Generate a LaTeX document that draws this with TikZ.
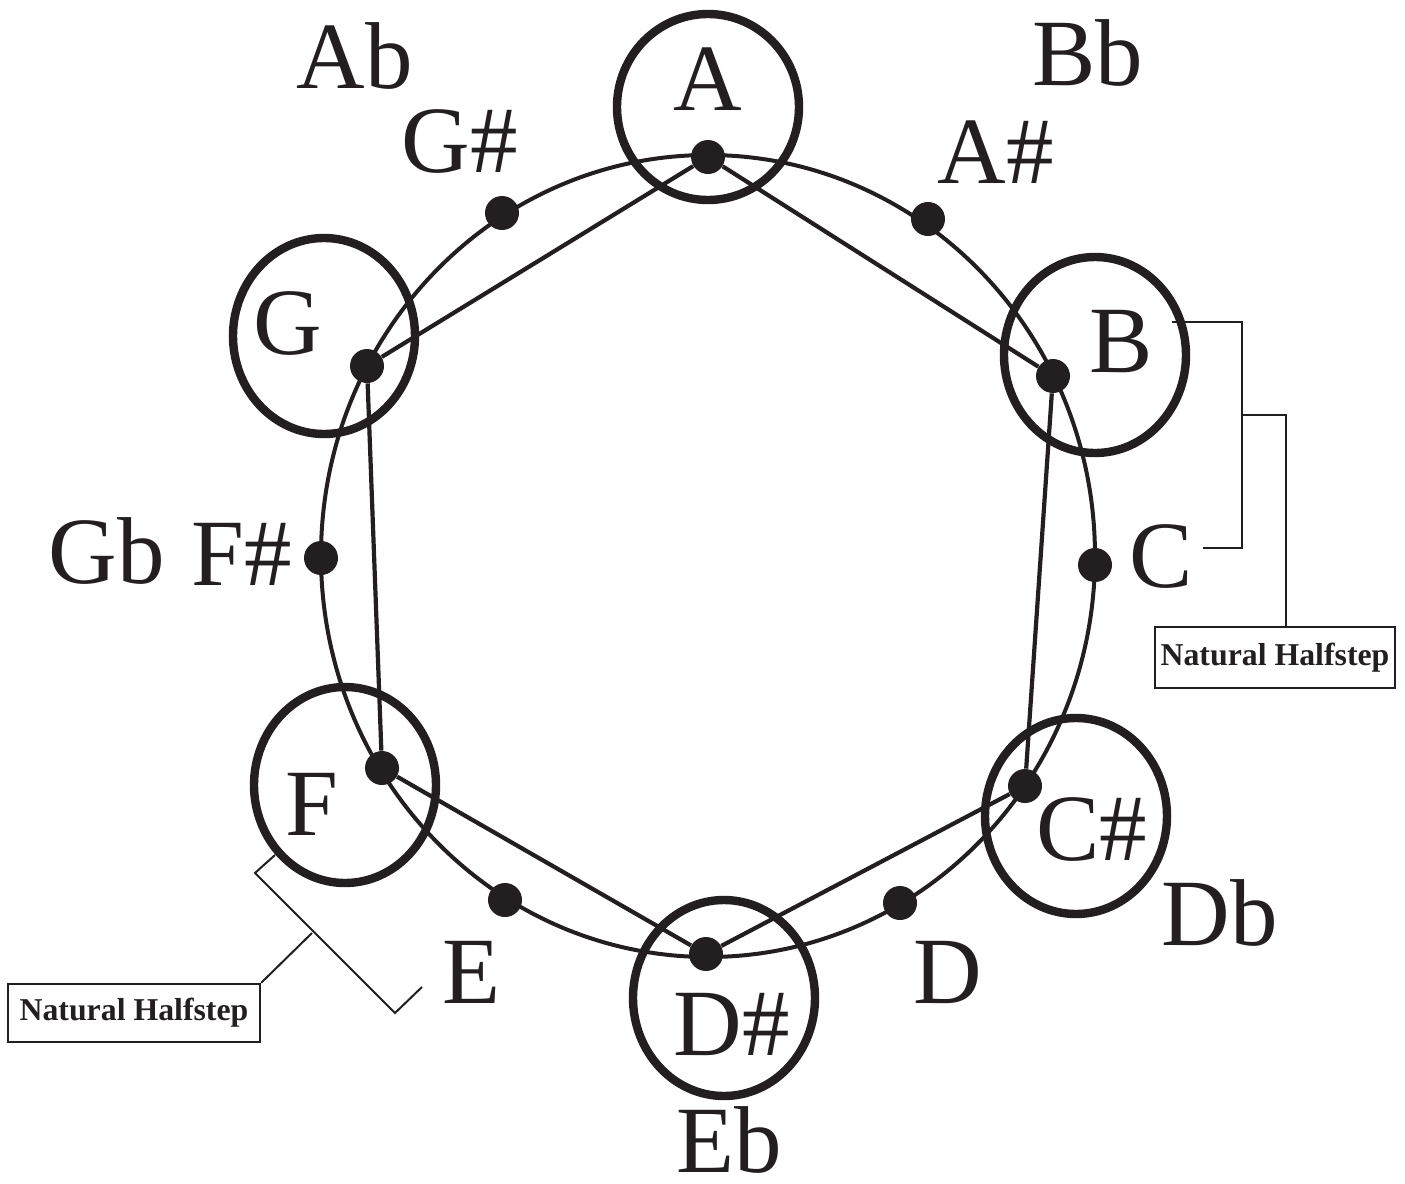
\documentclass[tikz,border=0pt]{standalone}
\usepackage{fontspec}
\setmainfont{Liberation Serif}
\usetikzlibrary{shapes.geometric}
\definecolor{ink}{HTML}{231F20}
\tikzset{
  dot/.style={circle,fill=ink,inner sep=0pt,minimum size=17pt},
  ring/.style={ellipse,draw=ink,line width=4.2pt,inner sep=0pt,minimum width=91pt,minimum height=98pt},
  note/.style={anchor=base,inner sep=0pt,text=ink,font=\fontsize{47.5}{50}\selectfont},
  hex/.style={draw=ink,line width=2.1pt},
  brk/.style={draw=ink,line width=1pt},
  tag/.style={draw=ink,line width=1.2pt,inner sep=0pt,text=ink,font=\bfseries\fontsize{15.9}{18}\selectfont}
}
\begin{document}
\begin{tikzpicture}[x=0.5pt,y=-0.5pt]
\useasboundingbox (0,0) rectangle (1405,1184);
% main ellipse
\draw[draw=ink,line width=2pt] (708,556) ellipse [x radius=387, y radius=401];
% dots
\node[dot] (dA)  at (708,157) {};
\node[dot] (dAs) at (928,219) {};
\node[dot] (dB)  at (1053,376) {};
\node[dot] (dC)  at (1095,565) {};
\node[dot] (dCs) at (1025,786) {};
\node[dot] (dD)  at (900,903) {};
\node[dot] (dDs) at (706,954) {};
\node[dot] (dE)  at (505,900) {};
\node[dot] (dF)  at (382,768) {};
\node[dot] (dFs) at (321,558) {};
\node[dot] (dG)  at (367,366) {};
\node[dot] (dGs) at (502,213) {};
% hexagon
\draw[hex] (dA) -- (dB);
\draw[hex] (dB) -- (dCs);
\draw[hex] (dCs) -- (dDs);
\draw[hex] (dDs) -- (dF);
\draw[hex] (dF) -- (dG);
\draw[hex] (dG) -- (dA);
% rings
\node[ring,minimum height=93pt] (rA) at (708,107) {};
\node[ring] (rG)  at (324,336) {};
\node[ring] (rB)  at (1095,355) {};
\node[ring] (rF)  at (345,785) {};
\node[ring] (rCs) at (1076,816) {};
\node[ring] (rDs) at (724,998) {};
% labels
\node[note] (tA)  at (708,110) {A};
\node[note] (tAb) at (355,88) {Ab};
\node[note] (tBb) at (1088,85) {Bb};
\node[note] (tGs) at (460,172) {G\#};
\node[note] (tAs) at (996,183) {A\#};
\node[note] (tG)  at (288,354) {G};
\node[note] (tB)  at (1121,372) {B};
\node[note] (tGb) at (107,583) {Gb};
\node[note] (tFs) at (242,585) {F\#};
\node[note] (tC)  at (1161,587) {C};
\node[note] (tF)  at (312,835) {F};
\node[note] (tCs) at (1092,860) {C\#};
\node[note] (tDb) at (1220,945) {Db};
\node[note] (tE)  at (472,1003) {E};
\node[note] (tD)  at (948,1003) {D};
\node[note] (tDs) at (732,1055) {D\#};
\node[note] (tEb) at (729,1172) {Eb};
% boxes
\node[tag,minimum width=120pt,minimum height=30.5pt] (rbox) at (1275,657.5) {Natural Halfstep};
\node[tag,minimum width=126pt,minimum height=29pt] (lbox) at (134,1013) {Natural Halfstep};
% right bracket
\coordinate (rb1) at (1172,322);
\coordinate (rb2) at (1242,322);
\coordinate (rb3) at (1242,548);
\coordinate (rb4) at (1203,548);
\coordinate (rm1) at (1242,415);
\coordinate (rm2) at (1286,415);
\draw[brk] (rb1) -- (rb2) -- (rb3) -- (rb4);
\draw[brk] (rm1) -- (rm2) -- ([xshift=5.5pt]rbox.north);
% left bracket
\coordinate (lb1) at (275,855);
\coordinate (lb2) at (255,873);
\coordinate (lb3) at (395,1013);
\coordinate (lb4) at (422,987);
\coordinate (lm1) at (312,933);
\draw[brk] (lb1) -- (lb2) -- (lb3) -- (lb4);
\draw[brk] (lm1) -- (lbox.north east);
\end{tikzpicture}
\end{document}
